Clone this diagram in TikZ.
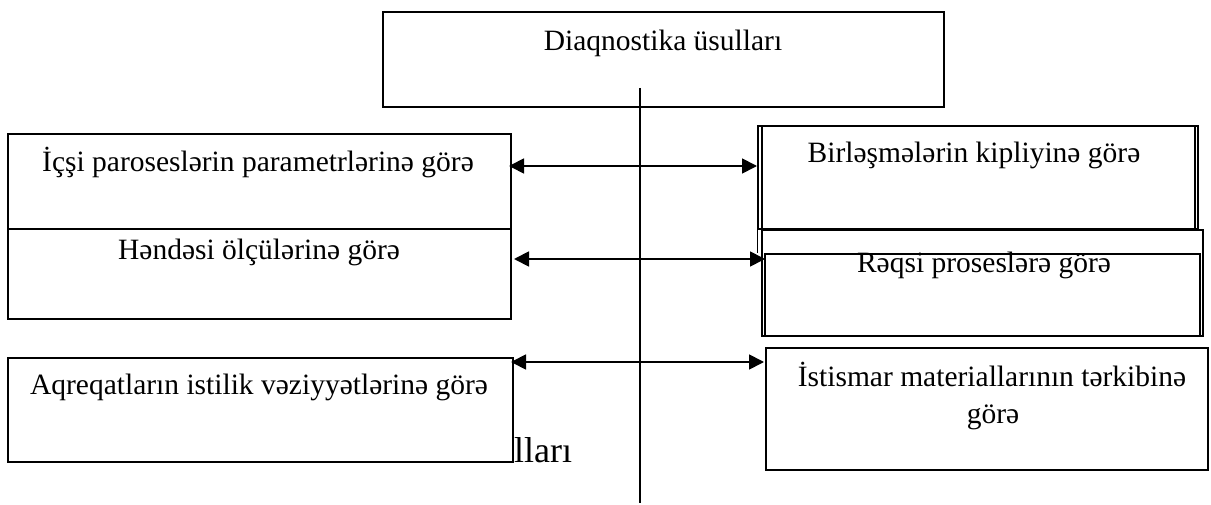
\documentclass[tikz,border=0pt]{standalone}
\usepackage{fontspec}
\setmainfont{Liberation Serif}
\usetikzlibrary{arrows.meta}
\begin{document}
\begin{tikzpicture}[x=1pt,y=-1pt,
  box/.style={draw,line width=2pt,fill=white,inner sep=0pt,rectangle},
  thinbox/.style={draw,line width=1.4pt,fill=white,inner sep=0pt,rectangle},
  lbl/.style={font=\fontsize{29.5}{34}\selectfont,inner sep=0pt,anchor=base},
  big/.style={font=\fontsize{36}{40}\selectfont,inner sep=0pt,anchor=base west},
  conn/.style={line width=1.8pt,{Triangle[length=15pt,width=15pt]}-{Triangle[length=15pt,width=15pt]}},
  vline/.style={line width=1.8pt}]
\useasboundingbox (0,0) rectangle (1211,505);
% top box
\node[box,minimum width=561,minimum height=95] (T) at (663.5,59.5) {};
\node[lbl] (tT) at (663,51) {Diaqnostika üsulları};
% left boxes
\node[box,minimum width=503,minimum height=95] (L1) at (259.5,181.5) {};
\node[lbl] (tL1) at (258,172) {İçşi paroseslərin parametrlərinə görə};
\node[box,minimum width=503,minimum height=90] (L2) at (259.5,274) {};
\node[lbl] (tL2) at (259,260) {Həndəsi ölçülərinə görə};
\node[big] (tB) at (514,462) {lları};
\node[box,minimum width=505,minimum height=104] (L3) at (260.5,410) {};
\node[lbl] (tL3) at (259,394) {Aqreqatların istilik vəziyyətlərinə görə};
% right boxes
\node[thinbox,minimum width=440,minimum height=103] (R1o) at (978,177.5) {};
\node[thinbox,minimum width=433,minimum height=103] (R1) at (978.5,177.5) {};
\node[lbl] (tR1) at (974,163) {Birləşmələrin kipliyinə görə};
\node[thinbox,minimum width=441,minimum height=106] (R2o) at (982.5,283) {};
\node[lbl] (tR2) at (984,273) {Rəqsi proseslərə görə};
\node[thinbox,minimum width=435,minimum height=82,fill=none] (R2) at (982.5,295) {};
\draw[line width=1.4pt] (R1o.north west) -- (R1o.north west |- R2.north);
\node[box,minimum width=442,minimum height=122] (R3) at (987,409) {};
\node[lbl] (tR3a) at (992,386) {İstismar materiallarının tərkibinə};
\node[lbl] (tR3b) at (993,423) {görə};
% vertical line
\coordinate (vEnd) at (640,503);
\draw[vline] (T.south -| 640,0) ++(0,-20) -- (vEnd);
% arrows
\coordinate (a1l) at (509,166);
\coordinate (a1r) at (757,166);
\coordinate (a2l) at (514,259);
\coordinate (a2r) at (765,259);
\coordinate (a3l) at (511,362);
\coordinate (a3r) at (764,362);
\draw[conn] (a1l) -- (a1r);
\draw[conn] (a2l) -- (a2r);
\draw[conn] (a3l) -- (a3r);
\end{tikzpicture}
\end{document}
